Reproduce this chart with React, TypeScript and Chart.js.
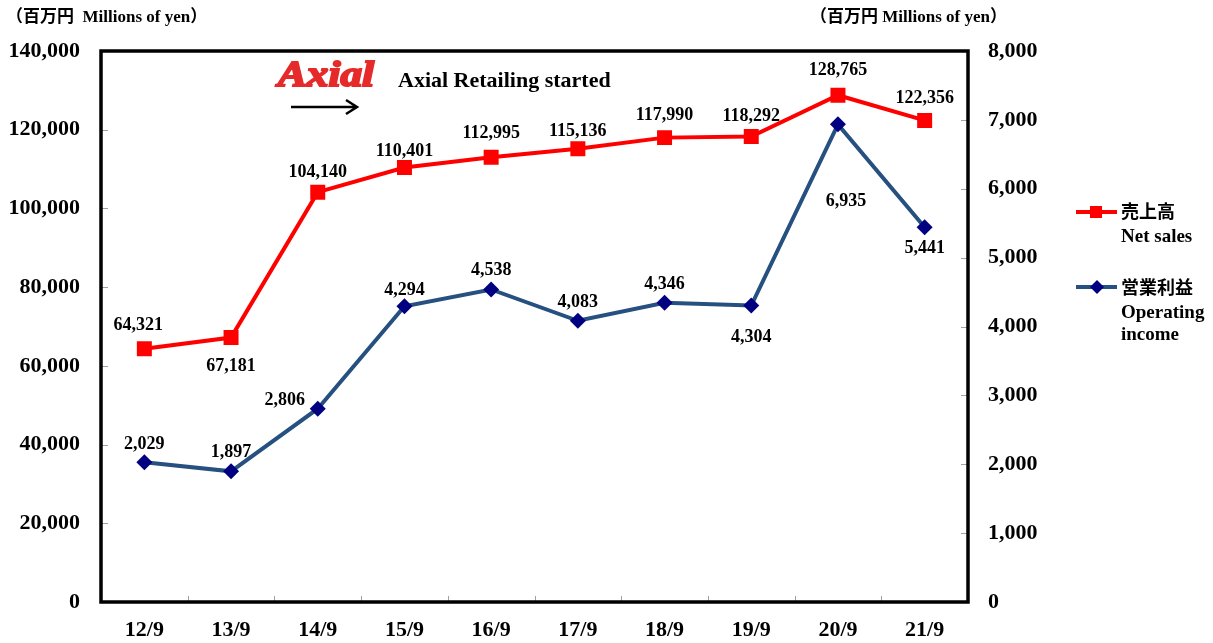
import React, { useEffect, useRef } from "react";
import { Chart, registerables } from "chart.js";

Chart.register(...registerables);

const categories = ["12/9", "13/9", "14/9", "15/9", "16/9", "17/9", "18/9", "19/9", "20/9", "21/9"];
const netSales = [64321, 67181, 104140, 110401, 112995, 115136, 117990, 118292, 128765, 122356];
const operatingIncome = [2029, 1897, 2806, 4294, 4538, 4083, 4346, 4304, 6935, 5441];

const leftMax = 140000;
const leftStep = 20000;
const rightMax = 8000;
const rightStep = 1000;

const salesLabelDx = [-6, 0, 0, 0, 0, 0, 0, 0, 0, 0];
const salesLabelDy = [-24, 29, -20, -16, -24, -18, -22, -20, -25, -22];
const opLabelDx = [0, 0, -33, 0, 0, 0, 0, 0, 8, 0];
const opLabelDy = [-18, -19, -8, -16, -19, -18, -18, 32, 77, 21];

const SERIF = '"Liberation Serif", "Noto Sans CJK JP", serif';
const RED = "#FF0000";
const BLUE_LINE = "#25507F";
const NAVY = "#000080";

const fmt = (v: number) => v.toLocaleString("en-US");

const extrasPlugin = {
  id: "extras",
  beforeDatasetsDraw(chart: any) {
    const { ctx, chartArea } = chart;
    const { left, right, top, bottom } = chartArea;
    ctx.save();
    ctx.strokeStyle = "#A0A0A0";
    ctx.lineWidth = 1;
    const y = chart.scales.y;
    for (let v = leftStep; v < leftMax; v += leftStep) {
      const py = Math.round(y.getPixelForValue(v)) + 0.5;
      ctx.beginPath();
      ctx.moveTo(left, py);
      ctx.lineTo(left + 7, py);
      ctx.stroke();
    }
    const y1 = chart.scales.y1;
    for (let v = rightStep; v < rightMax; v += rightStep) {
      const py = Math.round(y1.getPixelForValue(v)) + 0.5;
      ctx.beginPath();
      ctx.moveTo(right - 7, py);
      ctx.lineTo(right, py);
      ctx.stroke();
    }
    const n = categories.length;
    for (let i = 1; i < n; i++) {
      const px = Math.round(left + ((right - left) * i) / n) + 0.5;
      ctx.beginPath();
      ctx.moveTo(px, bottom - 6);
      ctx.lineTo(px, bottom);
      ctx.stroke();
    }
    ctx.strokeStyle = "#000";
    ctx.lineWidth = 3.5;
    ctx.strokeRect(left, top, right - left, bottom - top);
    ctx.restore();
  },
  afterDatasetsDraw(chart: any) {
    const { ctx } = chart;
    ctx.save();
    ctx.fillStyle = "#000";
    ctx.font = `bold 18px ${SERIF}`;
    ctx.textAlign = "center";
    ctx.textBaseline = "middle";
    const m0 = chart.getDatasetMeta(0);
    m0.data.forEach((pt: any, i: number) => {
      ctx.fillText(fmt(netSales[i]), pt.x + salesLabelDx[i], pt.y + salesLabelDy[i]);
    });
    const m1 = chart.getDatasetMeta(1);
    m1.data.forEach((pt: any, i: number) => {
      ctx.fillText(fmt(operatingIncome[i]), pt.x + opLabelDx[i], pt.y + opLabelDy[i]);
    });

    ctx.textAlign = "left";
    ctx.font = `bold 17px ${SERIF}`;
    ctx.fillText("（百万円  Millions of yen）", 6, 18);
    ctx.fillText("（百万円 Millions of yen）", 810, 18);

    // Axial logo
    ctx.save();
    ctx.fillStyle = "#E62A2A";
    ctx.strokeStyle = "#E62A2A";
    ctx.lineWidth = 2;
    ctx.font = `bold italic 36px ${SERIF}`;
    ctx.translate(278, 77);
    ctx.scale(1.2, 1);
    ctx.fillText("Axial", 0, 0);
    ctx.strokeText("Axial", 0, 0);
    ctx.restore();

    ctx.font = `bold 22px ${SERIF}`;
    ctx.fillStyle = "#000";
    ctx.fillText("Axial Retailing started", 398, 81);

    ctx.strokeStyle = "#000";
    ctx.lineWidth = 2.5;
    ctx.beginPath();
    ctx.moveTo(291, 107);
    ctx.lineTo(357, 107);
    ctx.moveTo(346, 100);
    ctx.lineTo(357, 107);
    ctx.lineTo(346, 114);
    ctx.stroke();

    // legend
    ctx.lineWidth = 4;
    ctx.strokeStyle = RED;
    ctx.beginPath();
    ctx.moveTo(1076, 212);
    ctx.lineTo(1117, 212);
    ctx.stroke();
    ctx.fillStyle = RED;
    ctx.fillRect(1090, 206, 12, 12);

    ctx.strokeStyle = BLUE_LINE;
    ctx.beginPath();
    ctx.moveTo(1076, 287);
    ctx.lineTo(1117, 287);
    ctx.stroke();
    ctx.fillStyle = NAVY;
    ctx.beginPath();
    ctx.moveTo(1097, 280);
    ctx.lineTo(1104, 287);
    ctx.lineTo(1097, 294);
    ctx.lineTo(1090, 287);
    ctx.closePath();
    ctx.fill();

    ctx.fillStyle = "#000";
    ctx.textAlign = "left";
    ctx.font = `bold 18px ${SERIF}`;
    ctx.fillText("売上高", 1121, 213);
    ctx.fillText("営業利益", 1121, 289);
    ctx.font = `bold 19px ${SERIF}`;
    ctx.fillText("Net sales", 1121, 237);
    ctx.fillText("Operating", 1121, 313);
    ctx.fillText("income", 1121, 335);
    ctx.restore();
  },
};

export default function App() {
  const ref = useRef<HTMLCanvasElement>(null);
  useEffect(() => {
    if (!ref.current) return;
    const tickFont = { family: SERIF, size: 22, weight: "bold" as const };
    const chart = new Chart(ref.current, {
      type: "line",
      data: {
        labels: categories,
        datasets: [
          {
            label: "売上高 Net sales",
            data: netSales,
            yAxisID: "y",
            borderColor: RED,
            backgroundColor: RED,
            borderWidth: 4,
            pointStyle: "rect",
            pointRadius: 10.6,
            pointBorderWidth: 0,
            pointBackgroundColor: RED,
            tension: 0,
          },
          {
            label: "営業利益 Operating income",
            data: operatingIncome,
            yAxisID: "y1",
            borderColor: BLUE_LINE,
            backgroundColor: NAVY,
            borderWidth: 4,
            pointStyle: "rectRot",
            pointRadius: 8,
            pointBorderWidth: 0,
            pointBackgroundColor: NAVY,
            tension: 0,
          },
        ],
      },
      options: {
        responsive: false,
        animation: false,
        layout: { padding: { top: 51, left: 0, right: 0, bottom: 0 } },
        plugins: { legend: { display: false }, tooltip: { enabled: false } },
        scales: {
          x: {
            type: "category",
            offset: true,
            grid: { display: false, drawTicks: false },
            border: { display: false },
            ticks: { font: tickFont, color: "#000", padding: 15, maxRotation: 0 },
            afterFit: (s: any) => {
              s.height = 41;
            },
          },
          y: {
            position: "left",
            min: 0,
            max: leftMax,
            grid: { display: false, drawTicks: false },
            border: { display: false },
            ticks: {
              stepSize: leftStep,
              font: tickFont,
              color: "#000",
              padding: 21,
              callback: (v: any) => fmt(Number(v)),
            },
            afterFit: (s: any) => {
              s.width = 101;
            },
          },
          y1: {
            position: "right",
            min: 0,
            max: rightMax,
            grid: { display: false, drawTicks: false },
            border: { display: false },
            ticks: {
              stepSize: rightStep,
              font: tickFont,
              color: "#000",
              padding: 20,
              callback: (v: any) => fmt(Number(v)),
            },
            afterFit: (s: any) => {
              s.width = 245;
            },
          },
        },
      },
      plugins: [extrasPlugin],
    });
    return () => chart.destroy();
  }, []);
  return (
    <div style={{ position: "absolute", left: 0, top: 0, width: 1213, height: 643, background: "#fff" }}>
      <canvas ref={ref} width={1213} height={643} />
    </div>
  );
}
